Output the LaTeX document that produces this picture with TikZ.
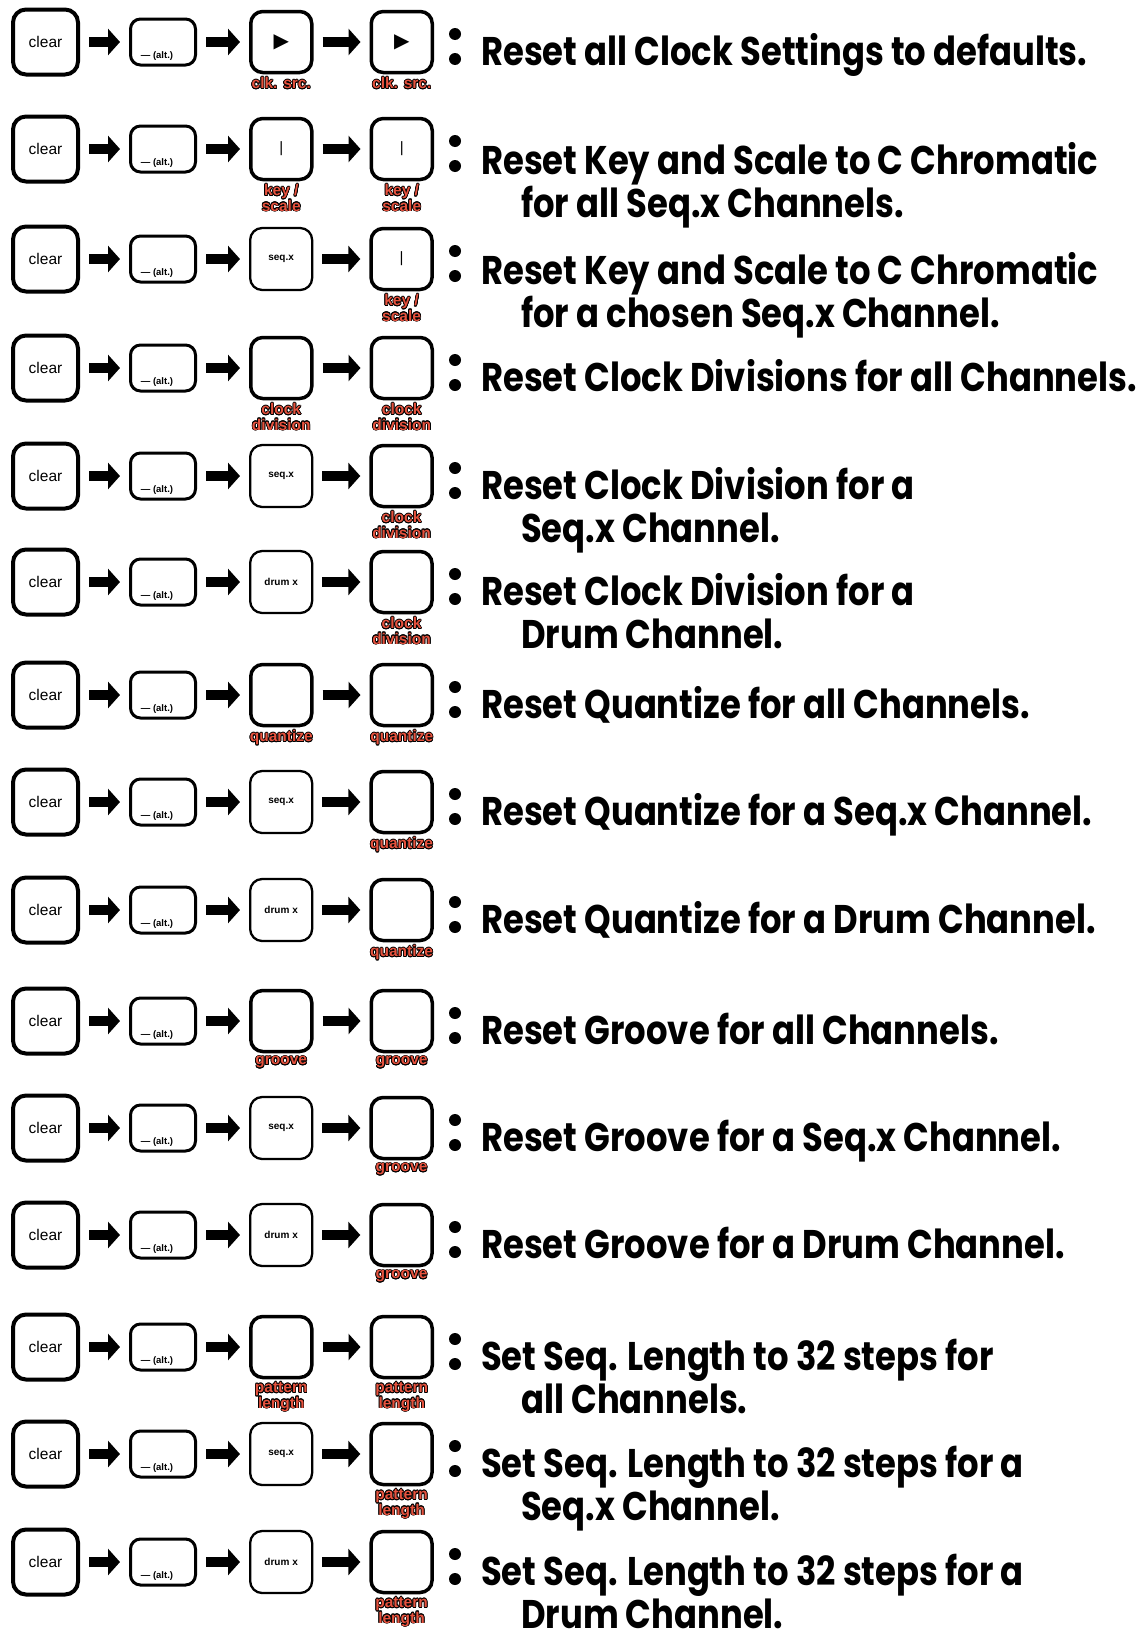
\documentclass[tikz,border=0pt]{standalone}
\usepackage{fontspec}
\setmainfont{Liberation Sans}
\newfontfamily\descfont{Poppins}[FakeStretch=0.845]
\newfontfamily\symfont{DejaVu Sans}
\usepackage{contour}
\contourlength{0.7pt}
\usepackage{tikz}
\usetikzlibrary{positioning,arrows.meta}

\definecolor{labred}{RGB}{230,82,62}
\newcommand{\redlab}[1]{\textcolor{labred}{\contour{black}{#1}}}
\newcommand{\play}{{\symfont\fontsize{20}{20}\selectfont ▶}}
\newcommand{\keybar}{{\fontsize{15}{15}\selectfont |}}

\begin{document}
\begin{tikzpicture}[
    x=1pt, y=1pt,
    clearkey/.style={
        draw,
        rounded corners=13pt,
        line width=4pt,
        minimum width=65pt,
        minimum height=65pt,
        font=\fontsize{15.5}{16}\selectfont
    },
    altkey/.style={
        draw,
        rounded corners=10pt,
        line width=3pt,
        minimum width=65pt,
        minimum height=46pt
    },
    padkey/.style={
        draw,
        rounded corners=12pt,
        line width=3.5pt,
        minimum width=61pt,
        minimum height=61pt
    },
    thinkey/.style={
        padkey,
        line width=2.3pt,
        minimum width=62pt,
        minimum height=62pt,
        font=\bfseries\fontsize{10}{10}\selectfont
    },
    alttext/.style={font=\bfseries\fontsize{9.5}{10}\selectfont, inner sep=0pt},
    keylab/.style={font=\bfseries\fontsize{15.5}{15.5}\selectfont, align=center, inner sep=0pt},
    desc/.style={
        font=\descfont\bfseries\fontsize{40}{43}\selectfont,
        align=left,
        inner sep=0pt,
        anchor=base west
    },
    arrow/.style={-{Triangle[length=12pt,width=26pt]}, line width=10pt, shorten <=9pt, shorten >=9pt}
]
\useasboundingbox (0,0) rectangle (1136,-1630);

% clock source
\node[clearkey] (clr1) at (45.5,-42) {clear};
\node[altkey, right=49pt of clr1] (alt1) {};
\node[alttext, above=6pt of alt1.south, xshift=-6pt] (altx1) {— (alt.)};
\node[padkey, right=52pt of alt1] (key1) {\play};
\node[padkey, right=56pt of key1] (tgt1) {\play};
\node[keylab, below=3pt of key1] (keyl1) {\redlab{clk. src.}};
\node[keylab, below=3pt of tgt1] (tgtl1) {\redlab{clk. src.}};
\draw[arrow] (clr1) -- (alt1);
\draw[arrow] (alt1) -- (key1);
\draw[arrow] (key1) -- (tgt1);
\fill (455,-34) circle (6pt) (455,-59) circle (6pt);
\node[desc] (txt1) at (481,-65) {Reset all Clock Settings to defaults.};

% key / scale, all channels
\node[clearkey] (clr2) at (45.5,-149) {clear};
\node[altkey, right=49pt of clr2] (alt2) {};
\node[alttext, above=6pt of alt2.south, xshift=-6pt] (altx2) {— (alt.)};
\node[padkey, right=52pt of alt2] (key2) {\keybar};
\node[padkey, right=56pt of key2] (tgt2) {\keybar};
\node[keylab, below=3pt of key2] (keyl2) {\redlab{key /}\\\redlab{scale}};
\node[keylab, below=3pt of tgt2] (tgtl2) {\redlab{key /}\\\redlab{scale}};
\draw[arrow] (clr2) -- (alt2);
\draw[arrow] (alt2) -- (key2);
\draw[arrow] (key2) -- (tgt2);
\fill (455,-141) circle (6pt) (455,-166) circle (6pt);
\node[desc] (txt2) at (481,-217) {Reset Key and Scale to C Chromatic\\\hspace*{40pt}for all Seq.x Channels.};

% key / scale, one seq
\node[clearkey] (clr3) at (45.5,-259) {clear};
\node[altkey, right=49pt of clr3] (alt3) {};
\node[alttext, above=6pt of alt3.south, xshift=-6pt] (altx3) {— (alt.)};
\node[thinkey, right=52pt of alt3] (key3) {seq.x};
\node[padkey, right=56pt of key3] (tgt3) {\keybar};
\node[keylab, below=3pt of tgt3] (tgtl3) {\redlab{key /}\\\redlab{scale}};
\draw[arrow] (clr3) -- (alt3);
\draw[arrow] (alt3) -- (key3);
\draw[arrow] (key3) -- (tgt3);
\fill (455,-251) circle (6pt) (455,-276) circle (6pt);
\node[desc] (txt3) at (481,-327) {Reset Key and Scale to C Chromatic\\\hspace*{40pt}for a chosen Seq.x Channel.};

% clock division, all channels
\node[clearkey] (clr4) at (45.5,-368) {clear};
\node[altkey, right=49pt of clr4] (alt4) {};
\node[alttext, above=6pt of alt4.south, xshift=-6pt] (altx4) {— (alt.)};
\node[padkey, right=52pt of alt4] (key4) {};
\node[padkey, right=56pt of key4] (tgt4) {};
\node[keylab, below=3pt of key4] (keyl4) {\redlab{clock}\\\redlab{division}};
\node[keylab, below=3pt of tgt4] (tgtl4) {\redlab{clock}\\\redlab{division}};
\draw[arrow] (clr4) -- (alt4);
\draw[arrow] (alt4) -- (key4);
\draw[arrow] (key4) -- (tgt4);
\fill (455,-360) circle (6pt) (455,-385) circle (6pt);
\node[desc] (txt4) at (481,-391) {Reset Clock Divisions for all Channels.};

% clock division, one seq
\node[clearkey] (clr5) at (45.5,-476) {clear};
\node[altkey, right=49pt of clr5] (alt5) {};
\node[alttext, above=6pt of alt5.south, xshift=-6pt] (altx5) {— (alt.)};
\node[thinkey, right=52pt of alt5] (key5) {seq.x};
\node[padkey, right=56pt of key5] (tgt5) {};
\node[keylab, below=3pt of tgt5] (tgtl5) {\redlab{clock}\\\redlab{division}};
\draw[arrow] (clr5) -- (alt5);
\draw[arrow] (alt5) -- (key5);
\draw[arrow] (key5) -- (tgt5);
\fill (455,-468) circle (6pt) (455,-493) circle (6pt);
\node[desc] (txt5) at (481,-542) {Reset Clock Division for a\\\hspace*{40pt}Seq.x Channel.};

% clock division, one drum
\node[clearkey] (clr6) at (45.5,-582) {clear};
\node[altkey, right=49pt of clr6] (alt6) {};
\node[alttext, above=6pt of alt6.south, xshift=-6pt] (altx6) {— (alt.)};
\node[thinkey, right=52pt of alt6] (key6) {drum x};
\node[padkey, right=56pt of key6] (tgt6) {};
\node[keylab, below=3pt of tgt6] (tgtl6) {\redlab{clock}\\\redlab{division}};
\draw[arrow] (clr6) -- (alt6);
\draw[arrow] (alt6) -- (key6);
\draw[arrow] (key6) -- (tgt6);
\fill (455,-574) circle (6pt) (455,-599) circle (6pt);
\node[desc] (txt6) at (481,-648) {Reset Clock Division for a\\\hspace*{40pt}Drum Channel.};

% quantize, all channels
\node[clearkey] (clr7) at (45.5,-695) {clear};
\node[altkey, right=49pt of clr7] (alt7) {};
\node[alttext, above=6pt of alt7.south, xshift=-6pt] (altx7) {— (alt.)};
\node[padkey, right=52pt of alt7] (key7) {};
\node[padkey, right=56pt of key7] (tgt7) {};
\node[keylab, below=3pt of key7] (keyl7) {\redlab{quantize}};
\node[keylab, below=3pt of tgt7] (tgtl7) {\redlab{quantize}};
\draw[arrow] (clr7) -- (alt7);
\draw[arrow] (alt7) -- (key7);
\draw[arrow] (key7) -- (tgt7);
\fill (455,-687) circle (6pt) (455,-712) circle (6pt);
\node[desc] (txt7) at (481,-718) {Reset Quantize for all Channels.};

% quantize, one seq
\node[clearkey] (clr8) at (45.5,-802) {clear};
\node[altkey, right=49pt of clr8] (alt8) {};
\node[alttext, above=6pt of alt8.south, xshift=-6pt] (altx8) {— (alt.)};
\node[thinkey, right=52pt of alt8] (key8) {seq.x};
\node[padkey, right=56pt of key8] (tgt8) {};
\node[keylab, below=3pt of tgt8] (tgtl8) {\redlab{quantize}};
\draw[arrow] (clr8) -- (alt8);
\draw[arrow] (alt8) -- (key8);
\draw[arrow] (key8) -- (tgt8);
\fill (455,-794) circle (6pt) (455,-819) circle (6pt);
\node[desc] (txt8) at (481,-825) {Reset Quantize for a Seq.x Channel.};

% quantize, one drum
\node[clearkey] (clr9) at (45.5,-910) {clear};
\node[altkey, right=49pt of clr9] (alt9) {};
\node[alttext, above=6pt of alt9.south, xshift=-6pt] (altx9) {— (alt.)};
\node[thinkey, right=52pt of alt9] (key9) {drum x};
\node[padkey, right=56pt of key9] (tgt9) {};
\node[keylab, below=3pt of tgt9] (tgtl9) {\redlab{quantize}};
\draw[arrow] (clr9) -- (alt9);
\draw[arrow] (alt9) -- (key9);
\draw[arrow] (key9) -- (tgt9);
\fill (455,-902) circle (6pt) (455,-927) circle (6pt);
\node[desc] (txt9) at (481,-933) {Reset Quantize for a Drum Channel.};

% groove, all channels
\node[clearkey] (clr10) at (45.5,-1021) {clear};
\node[altkey, right=49pt of clr10] (alt10) {};
\node[alttext, above=6pt of alt10.south, xshift=-6pt] (altx10) {— (alt.)};
\node[padkey, right=52pt of alt10] (key10) {};
\node[padkey, right=56pt of key10] (tgt10) {};
\node[keylab, below=3pt of key10] (keyl10) {\redlab{groove}};
\node[keylab, below=3pt of tgt10] (tgtl10) {\redlab{groove}};
\draw[arrow] (clr10) -- (alt10);
\draw[arrow] (alt10) -- (key10);
\draw[arrow] (key10) -- (tgt10);
\fill (455,-1013) circle (6pt) (455,-1038) circle (6pt);
\node[desc] (txt10) at (481,-1044) {Reset Groove for all Channels.};

% groove, one seq
\node[clearkey] (clr11) at (45.5,-1128) {clear};
\node[altkey, right=49pt of clr11] (alt11) {};
\node[alttext, above=6pt of alt11.south, xshift=-6pt] (altx11) {— (alt.)};
\node[thinkey, right=52pt of alt11] (key11) {seq.x};
\node[padkey, right=56pt of key11] (tgt11) {};
\node[keylab, below=3pt of tgt11] (tgtl11) {\redlab{groove}};
\draw[arrow] (clr11) -- (alt11);
\draw[arrow] (alt11) -- (key11);
\draw[arrow] (key11) -- (tgt11);
\fill (455,-1120) circle (6pt) (455,-1145) circle (6pt);
\node[desc] (txt11) at (481,-1151) {Reset Groove for a Seq.x Channel.};

% groove, one drum
\node[clearkey] (clr12) at (45.5,-1235) {clear};
\node[altkey, right=49pt of clr12] (alt12) {};
\node[alttext, above=6pt of alt12.south, xshift=-6pt] (altx12) {— (alt.)};
\node[thinkey, right=52pt of alt12] (key12) {drum x};
\node[padkey, right=56pt of key12] (tgt12) {};
\node[keylab, below=3pt of tgt12] (tgtl12) {\redlab{groove}};
\draw[arrow] (clr12) -- (alt12);
\draw[arrow] (alt12) -- (key12);
\draw[arrow] (key12) -- (tgt12);
\fill (455,-1227) circle (6pt) (455,-1252) circle (6pt);
\node[desc] (txt12) at (481,-1258) {Reset Groove for a Drum Channel.};

% pattern length, all channels
\node[clearkey] (clr13) at (45.5,-1347) {clear};
\node[altkey, right=49pt of clr13] (alt13) {};
\node[alttext, above=6pt of alt13.south, xshift=-6pt] (altx13) {— (alt.)};
\node[padkey, right=52pt of alt13] (key13) {};
\node[padkey, right=56pt of key13] (tgt13) {};
\node[keylab, below=3pt of key13] (keyl13) {\redlab{pattern}\\\redlab{length}};
\node[keylab, below=3pt of tgt13] (tgtl13) {\redlab{pattern}\\\redlab{length}};
\draw[arrow] (clr13) -- (alt13);
\draw[arrow] (alt13) -- (key13);
\draw[arrow] (key13) -- (tgt13);
\fill (455,-1339) circle (6pt) (455,-1364) circle (6pt);
\node[desc] (txt13) at (481,-1413) {Set Seq. Length to 32 steps for\\\hspace*{40pt}all Channels.};

% pattern length, one seq
\node[clearkey] (clr14) at (45.5,-1454) {clear};
\node[altkey, right=49pt of clr14] (alt14) {};
\node[alttext, above=6pt of alt14.south, xshift=-6pt] (altx14) {— (alt.)};
\node[thinkey, right=52pt of alt14] (key14) {seq.x};
\node[padkey, right=56pt of key14] (tgt14) {};
\node[keylab, below=3pt of tgt14] (tgtl14) {\redlab{pattern}\\\redlab{length}};
\draw[arrow] (clr14) -- (alt14);
\draw[arrow] (alt14) -- (key14);
\draw[arrow] (key14) -- (tgt14);
\fill (455,-1446) circle (6pt) (455,-1471) circle (6pt);
\node[desc] (txt14) at (481,-1520) {Set Seq. Length to 32 steps for a\\\hspace*{40pt}Seq.x Channel.};

% pattern length, one drum
\node[clearkey] (clr15) at (45.5,-1562) {clear};
\node[altkey, right=49pt of clr15] (alt15) {};
\node[alttext, above=6pt of alt15.south, xshift=-6pt] (altx15) {— (alt.)};
\node[thinkey, right=52pt of alt15] (key15) {drum x};
\node[padkey, right=56pt of key15] (tgt15) {};
\node[keylab, below=3pt of tgt15] (tgtl15) {\redlab{pattern}\\\redlab{length}};
\draw[arrow] (clr15) -- (alt15);
\draw[arrow] (alt15) -- (key15);
\draw[arrow] (key15) -- (tgt15);
\fill (455,-1554) circle (6pt) (455,-1579) circle (6pt);
\node[desc] (txt15) at (481,-1628) {Set Seq. Length to 32 steps for a\\\hspace*{40pt}Drum Channel.};

\end{tikzpicture}
\end{document}
